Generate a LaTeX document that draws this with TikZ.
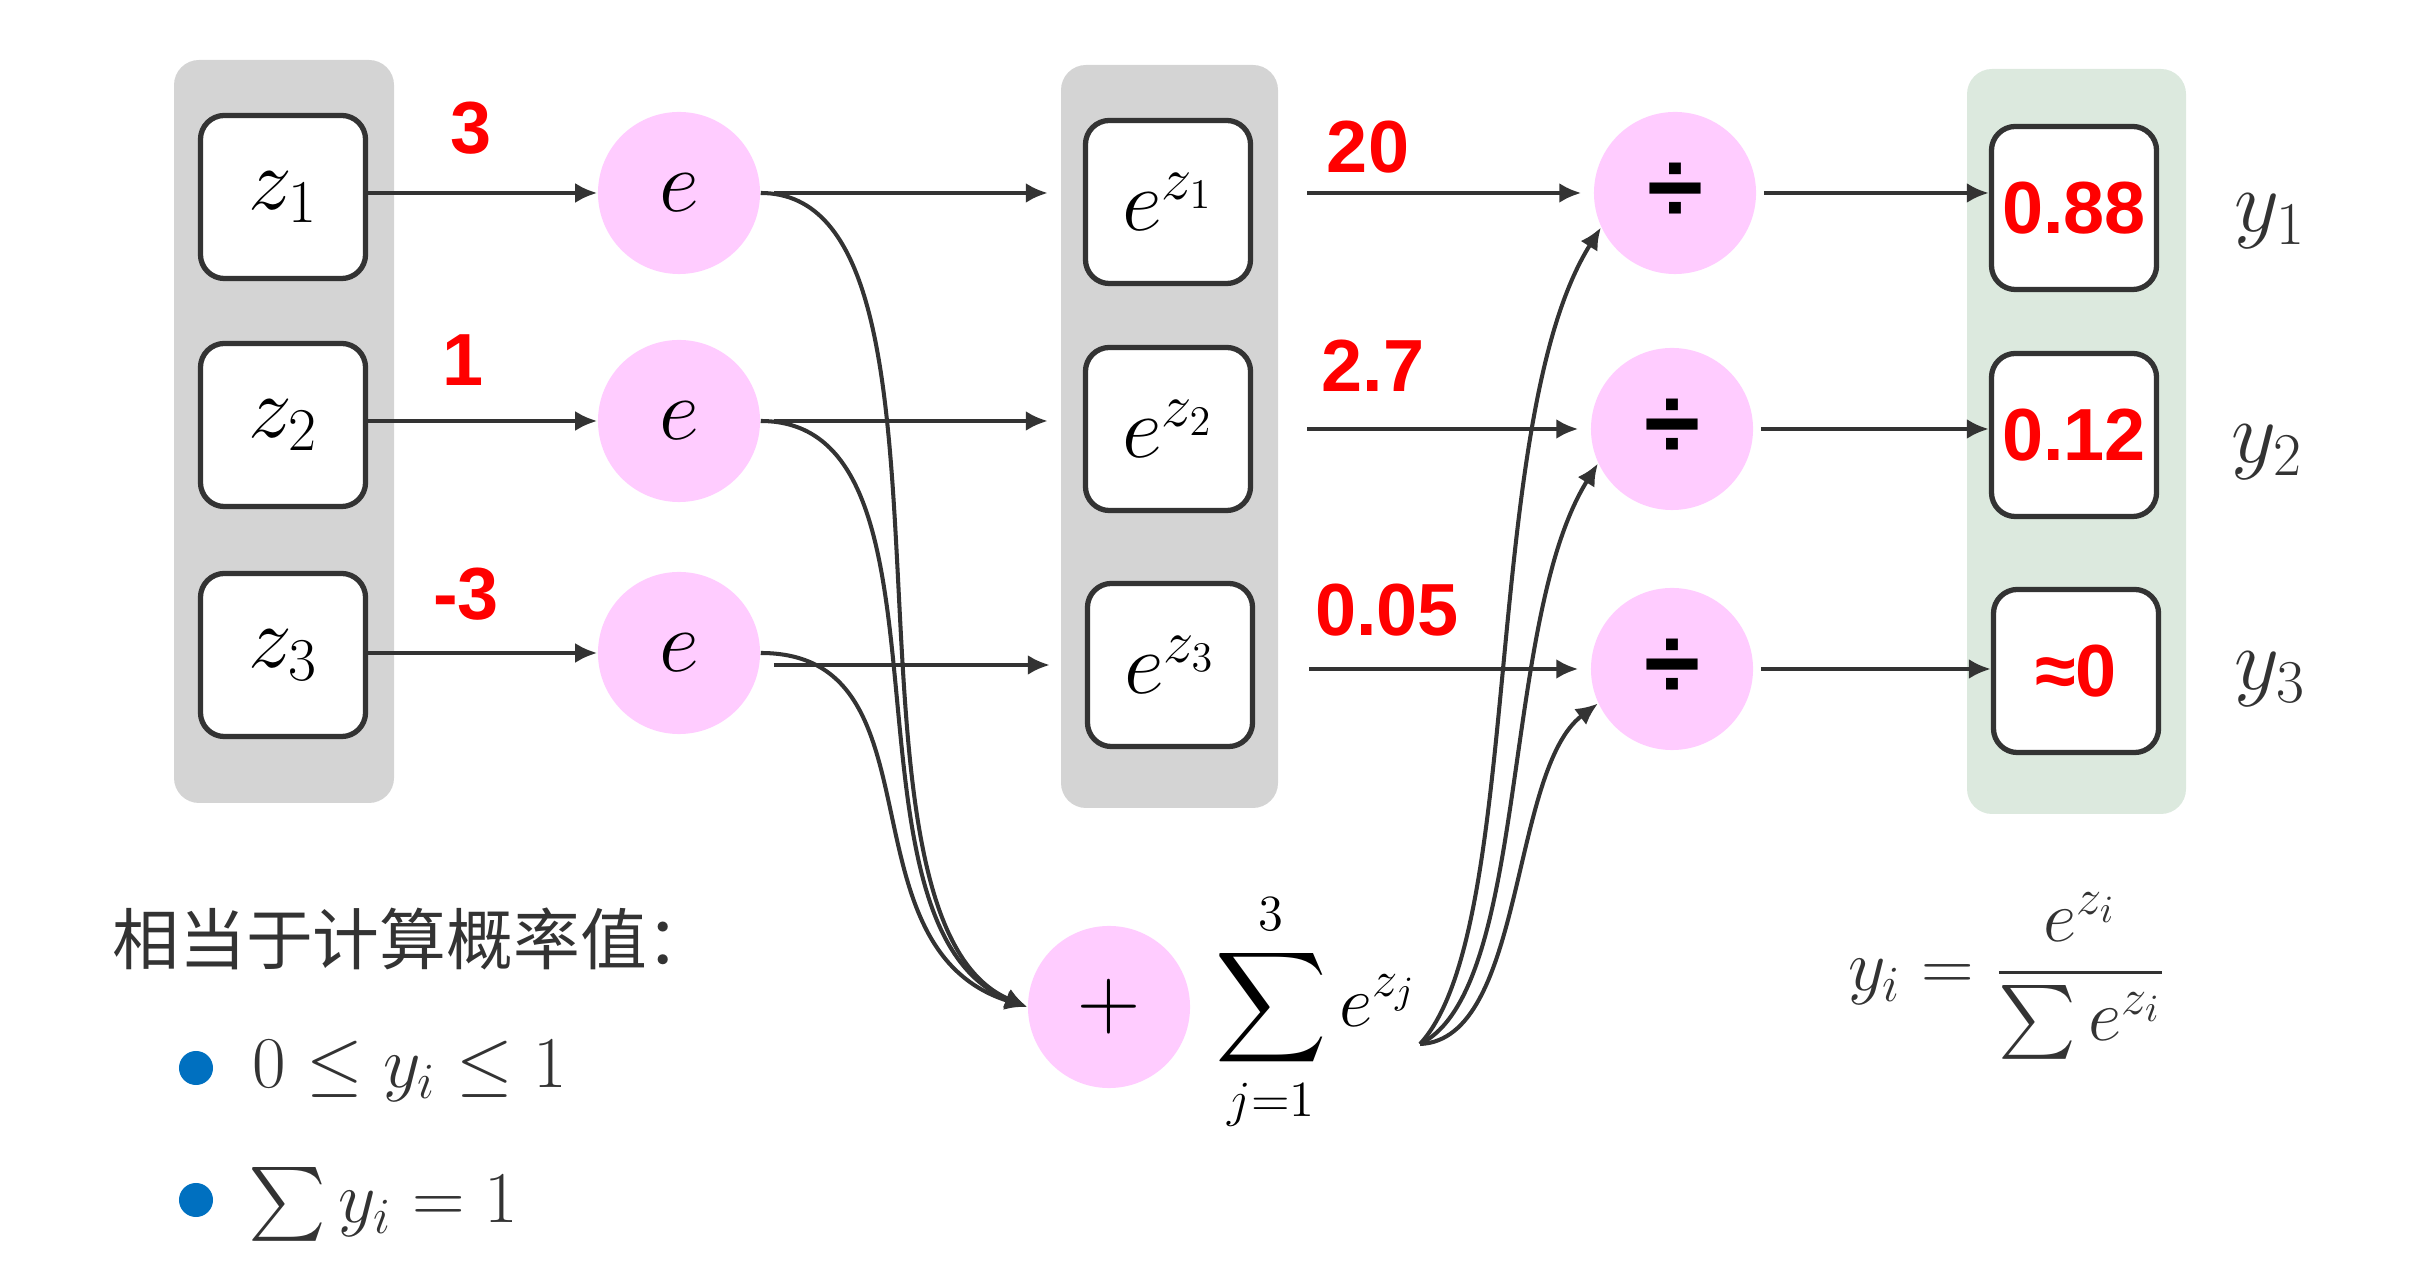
\documentclass[tikz,border=0pt]{standalone}
\usepackage{amsmath,amssymb}
\usepackage{fontspec}
\usepackage{tikz}
\usetikzlibrary{positioning,arrows.meta,calc}
\newfontfamily\numfont{Liberation Sans}
\newfontfamily\cjk{Noto Sans CJK SC}
\definecolor{linegray}{HTML}{333333}
\definecolor{panelgray}{HTML}{D4D4D4}
\definecolor{panelgreen}{HTML}{DCE9DE}
\definecolor{nodepink}{HTML}{FFCCFF}
\definecolor{bulletblue}{HTML}{0070C0}

\begin{document}
\begin{tikzpicture}[x=0.01cm,y=-0.01cm,>={Latex[length=0.22cm,width=0.2cm]},
  panel/.style={rounded corners=0.25cm},
  valbox/.style={draw=linegray,line width=1.5pt,rounded corners=0.24cm,fill=white,
    minimum width=1.65cm,minimum height=1.63cm,inner sep=0pt},
  opnode/.style={circle,fill=nodepink,minimum size=1.62cm,inner sep=0pt},
  flow/.style={->,draw=linegray,line width=1.15pt},
  redval/.style={text=red,font=\numfont\bfseries\fontsize{21}{24}\selectfont},
  bigmath/.style={font=\fontsize{24}{28}\selectfont},
  greytext/.style={text=linegray,font=\fontsize{21}{25}\selectfont},
  dot/.style={circle,fill=bulletblue,minimum size=0.34cm,inner sep=0pt}]
\useasboundingbox (0,0) rectangle (2421,1268);
% ---- column panels ----
\fill[panelgray,panel] (174,60) rectangle (394,803);
\fill[panelgray,panel] (1061,65) rectangle (1278,808);
\fill[panelgreen,panel] (1967,69) rectangle (2186,814);
% ---- inputs z_i ----
\node[valbox,bigmath] (z1) at (283,197) {$z_1$};
\node[valbox,bigmath] (z2) at (283,425) {$z_2$};
\node[valbox,bigmath] (z3) at (283,655) {$z_3$};
% ---- exp nodes ----
\node[opnode,bigmath] (e1) at (679,193) {$e$};
\node[opnode,bigmath] (e2) at (679,421) {$e$};
\node[opnode,bigmath] (e3) at (679,653) {$e$};
% ---- e^{z_i} boxes ----
\node[valbox,bigmath] (ez1) at (1168,202) {$e^{z_1}$};
\node[valbox,bigmath] (ez2) at (1168,429) {$e^{z_2}$};
\node[valbox,bigmath] (ez3) at (1170,665) {$e^{z_3}$};
% ---- division nodes ----
\node[opnode,font=\numfont\bfseries\fontsize{29}{32}\selectfont] (d1) at (1675,193) {÷};
\node[opnode,font=\numfont\bfseries\fontsize{29}{32}\selectfont] (d2) at (1672,429) {÷};
\node[opnode,font=\numfont\bfseries\fontsize{29}{32}\selectfont] (d3) at (1672,669) {÷};
% ---- outputs ----
\node[valbox,redval] (y1) at (2074,208) {0.88};
\node[valbox,redval] (y2) at (2074,435) {0.12};
\node[valbox,redval] (y3) at (2076,671) {≈0};
\node[bigmath,text=linegray] (ylab1) at (2270,221) {$y_1$};
\node[bigmath,text=linegray] (ylab2) at (2267,452) {$y_2$};
\node[bigmath,text=linegray] (ylab3) at (2270,679) {$y_3$};
% ---- sum node ----
\node[opnode,font=\fontsize{24}{28}\selectfont] (plus) at (1109,1007) {$+$};
\node[font=\fontsize{22}{26}\selectfont] (sumlbl) at (1316,1012) {$\displaystyle\sum_{j=1}^{3} e^{z_j}$};
\coordinate (sumout) at (1420,1044);
% ---- red values ----
\node[redval] (v1) at (471,128) {3};
\node[redval] (v2) at (463,360) {1};
\node[redval] (v3) at (466,594) {-3};
\node[redval] (w1) at (1368,147) {20};
\node[redval] (w2) at (1373,366) {2.7};
\node[redval] (w3) at (1387,610) {0.05};
% ---- straight arrows ----
\foreach \i/\dy in {1/0cm,2/0cm,3/-0.12cm} {
  \draw[flow] (z\i.east |- e\i.west) -- (e\i.west);
  \draw[flow,shorten <=0.13cm,shorten >=0.35cm] ([yshift=\dy]e\i.east) -- ([yshift=\dy]e\i.east -| ez\i.west);
  \draw[flow,shorten <=0.54cm,shorten >=0.12cm] (d\i.west -| ez\i.east) -- (d\i.west);
  \draw[flow,shorten <=0.07cm] (d\i.east) -- (d\i.east -| y\i.west);
}
% ---- exp -> sum ----
\draw[flow] (e1.east) .. controls +(225,0) and +(-210,-90) .. (plus.west);
\draw[flow] (e2.east) .. controls +(210,0) and +(-200,-80) .. (plus.west);
\draw[flow] (e3.east) .. controls +(185,0) and +(-190,-60) .. (plus.west);
% ---- sum -> division ----
\draw[flow] (sumout) .. controls (1525,930) and (1480,420) .. (d1.205);
\draw[flow] (sumout) .. controls (1530,990) and (1500,620) .. (d2.205);
\draw[flow] (sumout) .. controls (1525,1040) and (1510,770) .. (d3.205);
% ---- notes ----
\node[anchor=west,text=linegray,font=\cjk\fontsize{19}{22}\selectfont] (note) at (100,939) {相当于计算概率值：};
\node[dot] (b1) at (196,1068) {};
\node[dot] (b2) at (196,1200) {};
\node[greytext,anchor=west] (c1) at (240,1071) {$0\le y_i\le 1$};
\node[greytext,anchor=west] (c2) at (236,1204) {$\textstyle\sum y_i=1$};
\node[greytext] (fml) at (2007,976) {$y_i=\dfrac{e^{z_i}}{\textstyle\sum e^{z_i}}$};
\end{tikzpicture}
\end{document}
